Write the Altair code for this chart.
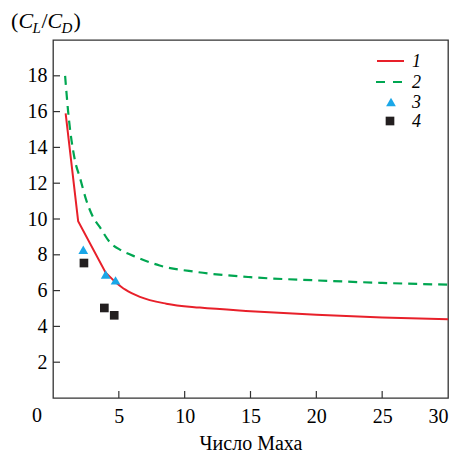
import altair as alt
import pandas as pd

# ---- data ----
red_mach = [0.96, 1.91, 4.0, 4.7, 5.5, 6.6, 8.6, 11.15, 15, 20, 25, 30]
red_ld = [15.9, 9.88, 7.0, 6.5, 6.05, 5.65, 5.27, 5.05, 4.85, 4.65, 4.5, 4.4]

green_mach = [0.92, 1.15, 1.66, 2.05, 2.55, 3.05, 3.56, 4.32, 5.2, 6.34, 8.1, 10.9, 15, 20, 25, 30]
green_ld = [18.0, 16.0, 13.3, 12.3, 11.0, 10.1, 9.54, 8.7, 8.24, 7.87, 7.4, 7.04, 6.75, 6.57, 6.43, 6.33]

tri_mach = [2.3, 4.0, 4.75]
tri_ld = [8.28, 6.9, 6.57]

sq_mach = [2.35, 3.9, 4.65]
sq_ld = [7.54, 5.03, 4.62]

x_ticks = [5, 10, 15, 20, 25, 30]
y_ticks = [2, 4, 6, 8, 10, 12, 14, 16, 18]
x_tick_marks = [5, 10, 15, 20, 25]
legend_labels = ["1", "2", "3", "4"]

RED = "#e8202a"
GREEN = "#00a651"
BLUE = "#1aa7e8"
BLACK = "#231f20"
FONT = "Liberation Serif"

W, H = 395, 358

xs = alt.Scale(domain=[0, 30], nice=False, zero=False)
ys = alt.Scale(domain=[0, 20], nice=False, zero=False)

red_df = pd.DataFrame({"M": red_mach, "LD": red_ld})
red_lin = red_df[red_df["M"] <= 4.7]
red_cur = red_df[red_df["M"] >= 4.7]
green_df = pd.DataFrame({"M": green_mach, "LD": green_ld})
tri_df = pd.DataFrame({"M": tri_mach, "LD": tri_ld})
sq_df = pd.DataFrame({"M": sq_mach, "LD": sq_ld})

x_axis = alt.Axis(values=x_ticks, ticks=False, domain=False, grid=False,
                  labelFont=FONT, labelFontSize=20, labelColor="black",
                  labelPadding=8, title="Число Маха", titleFont=FONT,
                  titleFontSize=20, titleFontWeight="normal", titleColor="black",
                  titlePadding=7)
y_axis = alt.Axis(values=y_ticks, ticks=False, domain=False, grid=False,
                  labelFont=FONT, labelFontSize=20, labelColor="black",
                  labelPadding=6, title=None)

red_line1 = alt.Chart(red_lin).mark_line(color=RED, strokeWidth=2).encode(
    x=alt.X("M:Q", scale=xs, axis=x_axis),
    y=alt.Y("LD:Q", scale=ys, axis=y_axis),
    order="M:Q",
)
red_line2 = alt.Chart(red_cur).mark_line(color=RED, strokeWidth=2, interpolate="monotone").encode(
    x=alt.X("M:Q", scale=xs), y=alt.Y("LD:Q", scale=ys), order="M:Q"
)
green_line = alt.Chart(green_df).mark_line(color=GREEN, strokeWidth=2.2, strokeDash=[9, 6],
                                           interpolate="monotone").encode(
    x=alt.X("M:Q", scale=xs), y=alt.Y("LD:Q", scale=ys), order="M:Q"
)
tri = alt.Chart(tri_df).mark_point(shape="triangle-up", filled=True, size=95, color=BLUE, opacity=1).encode(
    x=alt.X("M:Q", scale=xs), y=alt.Y("LD:Q", scale=ys)
)
sq = alt.Chart(sq_df).mark_point(shape="square", filled=True, size=75, color=BLACK, opacity=1).encode(
    x=alt.X("M:Q", scale=xs), y=alt.Y("LD:Q", scale=ys)
)

# inward ticks
ytick_df = pd.DataFrame({"v": y_ticks})
xtick_df = pd.DataFrame({"v": x_tick_marks})
ytick = alt.Chart(ytick_df).mark_rule(color="#333", strokeWidth=1.2).encode(
    y=alt.Y("v:Q", scale=ys), x=alt.value(0), x2=alt.value(7)
)
xtick = alt.Chart(xtick_df).mark_rule(color="#333", strokeWidth=1.2).encode(
    x=alt.X("v:Q", scale=xs), y=alt.value(H), y2=alt.value(H - 7)
)

one = pd.DataFrame({"a": [0]})

corner0 = alt.Chart(one).mark_text(font=FONT, fontSize=20, color="black",
                                   align="center", baseline="top").encode(
    x=alt.value(-16), y=alt.value(H + 8), text=alt.value("0")
)

# y-axis title (C_L/C_D) with subscripts
title_parts = [
    ("(", -42, 0, 22, "normal"),
    ("C", -34.5, 0, 22, "italic"),
    ("L", -20.5, 5, 15, "italic"),
    ("/", -11.5, 0, 22, "normal"),
    ("C", -5.5, 0, 22, "italic"),
    ("D", 8.5, 5, 15, "italic"),
    (")", 20.5, 0, 22, "normal"),
]
title_layers = []
for txt, px, dy, fs, st in title_parts:
    title_layers.append(
        alt.Chart(one).mark_text(font=FONT, fontSize=fs, fontStyle=st, color="black",
                                 align="left", baseline="alphabetic").encode(
            x=alt.value(px), y=alt.value(-12 + dy), text=alt.value(txt)
        )
    )

# legend (drawn by hand, inside top-right)
leg_y = [21, 42, 62, 81]
leg_red = alt.Chart(one).mark_rule(color=RED, strokeWidth=2).encode(
    x=alt.value(324), x2=alt.value(351), y=alt.value(leg_y[0])
)
leg_green = alt.Chart(one).mark_rule(color=GREEN, strokeWidth=2.2, strokeDash=[9, 8]).encode(
    x=alt.value(323), x2=alt.value(352), y=alt.value(leg_y[1])
)
leg_tri = alt.Chart(one).mark_point(shape="triangle-up", filled=True, size=95, color=BLUE, opacity=1).encode(
    x=alt.value(338), y=alt.value(leg_y[2])
)
leg_sq = alt.Chart(one).mark_point(shape="square", filled=True, size=75, color=BLACK, opacity=1).encode(
    x=alt.value(337), y=alt.value(leg_y[3])
)
leg_text = []
for lab, yy in zip(legend_labels, leg_y):
    leg_text.append(
        alt.Chart(one).mark_text(font=FONT, fontSize=18, fontStyle="italic", color="black",
                                 align="left", baseline="middle").encode(
            x=alt.value(359), y=alt.value(yy + 1), text=alt.value(lab)
        )
    )

chart = alt.layer(
    green_line, red_line1, red_line2, tri, sq, ytick, xtick, corner0,
    *title_layers, leg_red, leg_green, leg_tri, leg_sq, *leg_text
).properties(
    width=W, height=H,
    autosize=alt.AutoSizeParams(type="none"),
    padding={"left": 53, "top": 40, "right": 14, "bottom": 60},
    background="white",
).configure_view(
    stroke="#333", strokeWidth=1.3
)

chart.save("out.html", embed_options={"renderer": "svg", "actions": False})
